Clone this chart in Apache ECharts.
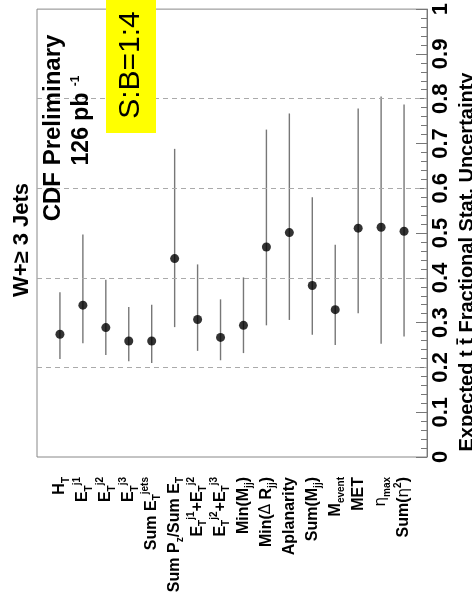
<!DOCTYPE html>
<html>
<head>
<meta charset="utf-8">
<script src="https://cdn.jsdelivr.net/npm/echarts@6/dist/echarts.min.js"></script>
<style>
html,body{margin:0;padding:0;background:#fff;overflow:hidden;}
#chart{width:472px;height:606px;}
</style>
</head>
<body>
<div id="chart"></div>
<script>
// ---- data ----
var categories = [
  'H{sub|T}',
  'E{sub|T}{sup|j1}',
  'E{sub|T}{sup|j2}',
  'E{sub|T}{sup|j3}',
  'Sum E{sub|T}{sup|jets}',
  'Sum P{sub|z}/Sum E{sub|T}',
  'E{sub|T}{sup|j1}+E{sub|T}{sup|j2}',
  'E{sub|T}{sup|j2}+E{sub|T}{sup|j3}',
  'Min(M{sub|jj})',
  'Min({g|\u0394} R{sub|jj})',
  'Aplanarity',
  'Sum(M{sub|jj})',
  'M{sub|event}',
  'MET',
  '{g|\u03b7}{sub|max}',
  'Sum({g|\u03b7}{sup|2})'
];
var values = [0.274,0.339,0.289,0.259,0.259,0.443,0.307,0.267,0.294,0.469,0.501,0.383,0.329,0.511,0.513,0.504];
var upper  = [0.368,0.497,0.396,0.335,0.340,0.688,0.430,0.352,0.401,0.731,0.767,0.580,0.474,0.778,0.805,0.787];
var lower  = [0.219,0.254,0.228,0.214,0.210,0.290,0.237,0.216,0.232,0.294,0.306,0.273,0.250,0.321,0.253,0.269];
var yTicks = [0,0.1,0.2,0.3,0.4,0.5,0.6,0.7,0.8,0.9,1];
var gridValues = [0.2,0.4,0.6,0.8];
var axisTitle = 'Expected t t\u0304 Fractional Stat. Uncertainty';

// ---- build ----
var FONT = '"Liberation Sans", Arial, Helvetica, sans-serif';
var axisCats = [''].concat(categories).concat([' ']);
var points = values.map(function(v,i){ return [i+1, v]; });
var bars = values.map(function(v,i){ return [i+1, lower[i], upper[i]]; });

var chart = echarts.init(document.getElementById('chart'), null, {renderer:'canvas'});
chart.setOption({
  animation: false,
  backgroundColor: '#ffffff',
  grid: {left: 37, top: 8, right: 45, bottom: 149, show: true, borderColor: '#888', borderWidth: 1, containLabel: false},
  xAxis: {
    type: 'category', data: axisCats, boundaryGap: false,
    axisLine: {show: false}, axisTick: {show: false}, splitLine: {show: false},
    axisLabel: {
      interval: 0, rotate: 90, margin: 20, color: '#000',
      fontFamily: FONT, fontSize: 16, fontWeight: 'bold', lineHeight: 22,
      rich: {
        sub: {fontFamily: FONT, fontSize: 10, fontWeight: 'bold', lineHeight: 10, verticalAlign: 'bottom', color: '#000'},
        sup: {fontFamily: FONT, fontSize: 10, fontWeight: 'bold', lineHeight: 10, verticalAlign: 'top', color: '#000'},
        g: {fontFamily: '"DejaVu Sans", sans-serif', fontSize: 15, fontWeight: 'normal', lineHeight: 22, color: '#000'}
      }
    }
  },
  yAxis: {
    type: 'value', position: 'right', min: 0, max: 1, interval: 0.1,
    axisLine: {show: true, lineStyle: {color: '#777', width: 1}},
    axisTick: {show: true, inside: true, length: 11, lineStyle: {color: '#777'}},
    minorTick: {show: true, splitNumber: 5, length: 6, lineStyle: {color: '#777'}},
    splitLine: {show: false},
    axisLabel: {
      rotate: 90, margin: 3, color: '#000', fontFamily: FONT, fontSize: 22, fontWeight: 'bold',
      formatter: function(v){ var k = yTicks.indexOf(Math.round(v*10)/10); return k >= 0 ? String(yTicks[k]) : ''; }
    }
  },
  series: [
    {
      type: 'custom', data: bars, encode: {x: 0, y: [1, 2]}, z: 2,
      renderItem: function(params, api){
        var x = api.value(0);
        var a = api.coord([x, api.value(1)]);
        var b = api.coord([x, api.value(2)]);
        return {type: 'line', shape: {x1: a[0], y1: a[1], x2: b[0], y2: b[1]}, style: {stroke: '#777', lineWidth: 1.4}};
      }
    },
    {
      type: 'scatter', data: points, symbol: 'circle', symbolSize: 9, z: 3,
      itemStyle: {color: '#000'},
      markLine: {
        silent: true, symbol: ['none','none'], label: {show: false},
        lineStyle: {type: [5,4], color: '#aaa', width: 1},
        data: gridValues.map(function(g){ return {yAxis: g}; })
      }
    }
  ],
  graphic: [
    {type: 'text', x: 22, y: 240, rotation: Math.PI/2, z: 10,
     style: {text: 'W+\u2265 3 Jets', fontFamily: FONT, fontSize: 22, fontWeight: 'bold', fill: '#000', align: 'center', verticalAlign: 'middle'}},
    {type: 'text', x: 53, y: 128, rotation: Math.PI/2, z: 10,
     style: {text: 'CDF Preliminary', fontFamily: FONT, fontSize: 24, fontWeight: 'bold', fill: '#000', align: 'center', verticalAlign: 'middle'}},
    {type: 'text', x: 82, y: 129, rotation: Math.PI/2, z: 10,
     style: {text: '126 pb', fontFamily: FONT, fontSize: 23, fontWeight: 'bold', fill: '#000', align: 'center', verticalAlign: 'middle'}},
    {type: 'text', x: 76, y: 81, rotation: Math.PI/2, z: 10,
     style: {text: '-1', fontFamily: FONT, fontSize: 12, fontWeight: 'bold', fill: '#000', align: 'center', verticalAlign: 'middle'}},
    {type: 'rect', shape: {x: 106, y: 0, width: 50, height: 133}, z: 10, style: {fill: '#ffff00'}},
    {type: 'text', x: 131, y: 65, rotation: Math.PI/2, z: 11,
     style: {text: 'S:B=1:4', fontFamily: FONT, fontSize: 30, fontWeight: 'normal', fill: '#000', align: 'center', verticalAlign: 'middle'}},
    {type: 'text', x: 467, y: 262, rotation: Math.PI/2, z: 10,
     style: {text: axisTitle, fontFamily: FONT, fontSize: 20, fontWeight: 'bold', fill: '#000', align: 'center', verticalAlign: 'middle'}}
  ]
});
</script>
</body>
</html>
